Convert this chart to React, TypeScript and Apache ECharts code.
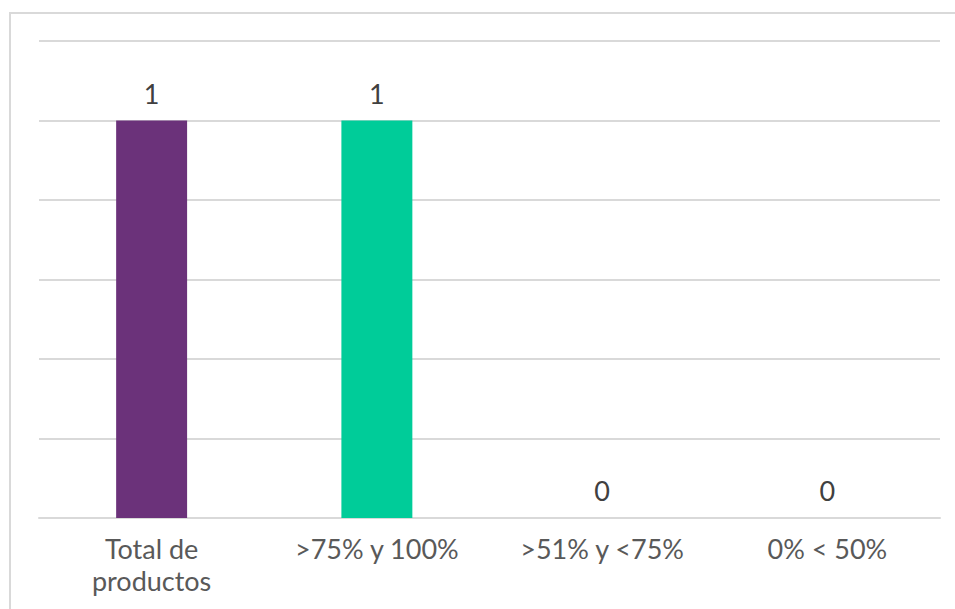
import React, { useEffect, useRef } from "react";
import * as echarts from "echarts";

const categories = ["Total de\nproductos", ">75% y 100%", ">51% y <75%", "0% < 50%"];
const values = [1, 1, 0, 0];
const colors = ["#6B327A", "#00CC99", "#A5A5A5", "#A5A5A5"];

export default function App() {
  const ref = useRef<HTMLDivElement>(null);
  useEffect(() => {
    const chart = echarts.init(ref.current!, null, { renderer: "svg" });
    chart.setOption({
      animation: false,
      graphic: [
        {
          type: "rect",
          shape: { x: 10, y: 13, width: 1000, height: 700 },
          style: { fill: "none", stroke: "#d9d9d9", lineWidth: 2 },
          silent: true,
        },
      ],
      grid: { left: 39, right: 15, top: 41, bottom: 91, containLabel: false },
      xAxis: {
        type: "category",
        data: categories,
        axisLine: { show: true, lineStyle: { color: "#d9d9d9", width: 2 } },
        axisTick: { show: false },
        axisLabel: {
          color: "#595959",
          fontFamily: "Lato",
          fontSize: 27,
          lineHeight: 32,
          margin: 14,
          interval: 0,
        },
      },
      yAxis: {
        type: "value",
        min: 0,
        max: 1.2,
        interval: 0.2,
        axisLabel: { show: false },
        axisLine: { show: false },
        axisTick: { show: false },
        splitLine: { lineStyle: { color: "#d9d9d9", width: 2 } },
      },
      series: [
        {
          type: "bar",
          data: values.map((v, i) => ({ value: v, itemStyle: { color: colors[i] } })),
          barWidth: "31.5%",
          label: {
            show: true,
            position: "top",
            distance: 14,
            color: "#404040",
            fontFamily: "Lato",
            fontSize: 27,
          },
        },
      ],
    });
    return () => chart.dispose();
  }, []);
  return (
    <div
      ref={ref}
      style={{ position: "fixed", left: 0, top: 0, width: 955, height: 609, background: "#fff" }}
    />
  );
}
